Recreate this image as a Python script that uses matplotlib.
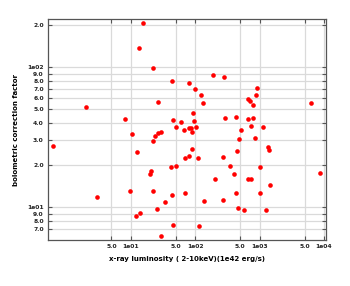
import matplotlib
matplotlib.use('Agg')
import matplotlib.pyplot as plt

# x-ray luminosity (1e42 erg/s) and bolometric correction
lum = [15.6, 13.6, 1.99, 8.13, 22.4, 188, 279, 44.2, 81.3, 99.6,
       122, 26.8, 134, 92.7, 295, 437, 45.3, 60.4, 95.1, 50.5,
       66.0, 79.5, 86.3, 88.5, 102, 29.8, 26.5, 23.8, 22.4, 487,
       90.4, 81.3, 69.7, 112, 453, 272, 49.9, 41.7, 20.8, 19.5,
       345, 398, 206, 21.9, 69.7, 44.2, 437, 34.0, 139, 272,
       456, 25.1, 45.8, 114, 29.8, 918, 895, 672, 697, 781,
       6280, 672, 787, 733, 1138, 518, 839, 1327, 1396, 1022,
       8750, 658, 733, 1445, 1011, 570, 1280, 10.4, 0.623, 12.5,
       2.98, 9.7, 14.0, 12.2]
bc = [206, 137, 52.3, 42.3, 98, 88.1, 85.3, 80.2, 76.9, 69.6,
      63.1, 56.8, 55.6, 47.2, 43.5, 44.4, 41.6, 40.5, 41.1, 37.2,
      35.4, 36.7, 37.0, 34.5, 37.6, 34.5, 34.1, 32.3, 29.9, 30.8,
      26.1, 23.2, 22.5, 22.6, 25.2, 23.0, 19.8, 19.4, 18.0, 17.4,
      19.6, 17.2, 15.9, 13.1, 12.7, 12.2, 12.6, 10.9, 11.0, 11.2,
      9.84, 9.68, 7.47, 7.39, 6.18, 71.1, 63.1, 59.1, 57.2, 53.5,
      55.6, 42.9, 43.5, 38.2, 37.2, 35.8, 31.1, 26.8, 25.8, 19.4,
      17.6, 15.8, 16.0, 14.4, 12.7, 9.52, 9.61, 33.4, 27.4, 24.9,
      11.9, 13.1, 9.06, 8.67]

xticks = [5, 10, 50, 100, 500, 1000, 5000, 10000]
xticklabels = ['5.0', '1e01', '5.0', '1e02', '5.0', '1e03', '5.0', '1e04']
yticks = [7, 8, 9, 10, 20, 30, 40, 50, 60, 70, 80, 90, 100, 200]
yticklabels = ['7.0', '8.0', '9.0', '1e01', '2.0', '3.0', '4.0', '5.0',
               '6.0', '7.0', '8.0', '9.0', '1e02', '2.0']

fig = plt.figure(figsize=(3.5, 2.86), dpi=100)
ax = fig.add_axes([0.137, 0.16, 0.794, 0.774])

ax.scatter(lum, bc, s=11, color='#ff0000', zorder=3, linewidths=0)

ax.set_xscale('log')
ax.set_yscale('log')
ax.set_xlim(0.515, 10700)
ax.set_ylim(5.81, 221)

ax.set_xticks(xticks)
ax.set_xticklabels(xticklabels, fontweight='bold')
ax.set_yticks(yticks)
ax.set_yticklabels(yticklabels, fontweight='bold')
ax.minorticks_off()

ax.grid(True, color='#dadada', linewidth=0.9, zorder=0)
ax.tick_params(direction='in', length=3, width=0.8, colors='#555555',
               labelsize=4.3, labelcolor='#222222', top=True, right=True, pad=3)
for sp in ax.spines.values():
    sp.set_color('#555555')
    sp.set_linewidth(0.9)

ax.set_xlabel('x-ray luminosity ( 2-10keV)(1e42 erg/s)', fontsize=5.0,
              fontweight='bold', labelpad=5)
ax.set_ylabel('bolometric correction factor', fontsize=5.0,
              fontweight='bold', labelpad=6)

fig.savefig('out.png', dpi=100)
